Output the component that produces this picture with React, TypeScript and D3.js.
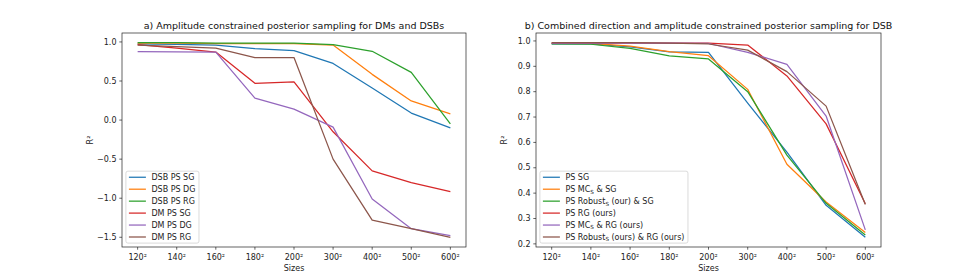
import React, { useEffect, useRef } from 'react';
import * as d3 from 'd3';

const SIZES = ['120²', '140²', '160²', '180²', '200²', '300²', '400²', '500²', '600²'];

// panel a) amplitude constrained posterior sampling
const LEFT_TITLE = 'a) Amplitude constrained posterior sampling for DMs and DSBs';
const LEFT_LABELS = ['DSB PS SG', 'DSB PS DG', 'DSB PS RG', 'DM PS SG', 'DM PS DG', 'DM PS RG'];
const dsbPsSg = [0.975, 0.97, 0.96, 0.915, 0.89, 0.725, 0.41, 0.09, -0.1];
const dsbPsDg = [0.985, 0.985, 0.98, 0.98, 0.98, 0.96, 0.585, 0.245, 0.08];
const dsbPsRg = [0.99, 0.99, 0.985, 0.985, 0.985, 0.965, 0.88, 0.61, -0.05];
const dmPsSg = [0.967, 0.92, 0.87, 0.47, 0.49, -0.15, -0.65, -0.8, -0.915];
const dmPsDg = [0.875, 0.873, 0.87, 0.28, 0.14, -0.09, -1.01, -1.39, -1.48];
const dmPsRg = [0.96, 0.94, 0.92, 0.8, 0.8, -0.5, -1.28, -1.39, -1.5];
const LEFT_TICKS = [-1.5, -1.0, -0.5, 0.0, 0.5, 1.0];

// panel b) combined direction and amplitude constrained posterior sampling
const RIGHT_TITLE = 'b) Combined direction and amplitude constrained posterior sampling for DSB';
const RIGHT_LABELS = [
  'PS SG',
  'PS MC_S & SG',
  'PS Robust_S (our) & SG',
  'PS RG (ours)',
  'PS MC_S & RG (ours)',
  'PS Robust_S (ours) & RG (ours)'
];
const psSg = [0.988, 0.988, 0.977, 0.957, 0.955, 0.755, 0.562, 0.352, 0.226];
const psMcSg = [0.99, 0.99, 0.98, 0.958, 0.942, 0.809, 0.514, 0.365, 0.245];
const psRobustSg = [0.988, 0.987, 0.971, 0.941, 0.929, 0.8, 0.55, 0.36, 0.235];
const psRg = [0.991, 0.991, 0.991, 0.991, 0.991, 0.984, 0.862, 0.673, 0.358];
const psMcRg = [0.991, 0.991, 0.991, 0.991, 0.99, 0.955, 0.908, 0.704, 0.255];
const psRobustRg = [0.993, 0.993, 0.993, 0.991, 0.988, 0.964, 0.879, 0.743, 0.355];
const RIGHT_TICKS = [0.2, 0.3, 0.4, 0.5, 0.6, 0.7, 0.8, 0.9, 1.0];

const COLORS = ['#1f77b4', '#ff7f0e', '#2ca02c', '#d62728', '#9467bd', '#8c564b'];
const FONT = 'DejaVu Sans, sans-serif';
const SMALL = 8;

function drawPanel(svg, cfg) {
  const { left, right, top, bottom, title, labels, series, ticks } = cfg;
  const g = svg.append('g');

  const x = d3.scalePoint().domain(SIZES).range([left, right]).padding(0.4);
  const all = series.flat();
  const lo = d3.min(all);
  const hi = d3.max(all);
  const pad = (hi - lo) * 0.05;
  const y = d3.scaleLinear().domain([lo - pad, hi + pad]).range([bottom, top]);

  const line = d3.line()
    .x((_, i) => x(SIZES[i]))
    .y((v) => y(v));

  series.forEach((values, i) => {
    g.append('path')
      .datum(values)
      .attr('fill', 'none')
      .attr('stroke', COLORS[i])
      .attr('stroke-width', 1.25)
      .attr('stroke-linejoin', 'round')
      .attr('d', line);
  });

  // spines
  g.append('rect')
    .attr('x', left)
    .attr('y', top)
    .attr('width', right - left)
    .attr('height', bottom - top)
    .attr('fill', 'none')
    .attr('stroke', '#222')
    .attr('stroke-width', 0.7);

  const fmt = (v) => d3.format('.1f')(v).replace('-', '\u2212');

  ticks.forEach((t) => {
    g.append('line')
      .attr('x1', left - 2.7).attr('x2', left)
      .attr('y1', y(t)).attr('y2', y(t))
      .attr('stroke', '#222').attr('stroke-width', 0.7);
    g.append('text')
      .attr('x', left - 5.5)
      .attr('y', y(t))
      .attr('dy', '0.33em')
      .attr('text-anchor', 'end')
      .attr('font-size', SMALL)
      .attr('font-family', FONT)
      .attr('fill', '#222')
      .text(fmt(t));
  });

  SIZES.forEach((s) => {
    g.append('line')
      .attr('x1', x(s)).attr('x2', x(s))
      .attr('y1', bottom).attr('y2', bottom + 2.7)
      .attr('stroke', '#222').attr('stroke-width', 0.7);
    g.append('text')
      .attr('x', x(s))
      .attr('y', bottom + 13)
      .attr('text-anchor', 'middle')
      .attr('font-size', SMALL)
      .attr('font-family', FONT)
      .attr('fill', '#222')
      .text(s);
  });

  g.append('text')
    .attr('x', (left + right) / 2)
    .attr('y', top - 3.8)
    .attr('text-anchor', 'middle')
    .attr('font-size', 9.5)
    .attr('font-family', FONT)
    .attr('fill', '#111')
    .text(title);

  g.append('text')
    .attr('x', (left + right) / 2)
    .attr('y', bottom + 23.5)
    .attr('text-anchor', 'middle')
    .attr('font-size', SMALL)
    .attr('font-family', FONT)
    .attr('fill', '#222')
    .text('Sizes');

  g.append('text')
    .attr('transform', `translate(${left - 29},${(top + bottom) / 2}) rotate(-90)`)
    .attr('text-anchor', 'middle')
    .attr('font-size', SMALL)
    .attr('font-family', FONT)
    .attr('fill', '#222')
    .text('R²');

  // legend, lower left
  const rowGap = 11.95;
  const boxX = left + 3.9;
  const boxH = rowGap * (labels.length - 1) + 12.2;
  const boxY = bottom - 3.9 - boxH;
  const legend = g.append('g');
  const frame = legend.append('rect')
    .attr('x', boxX)
    .attr('y', boxY)
    .attr('height', boxH)
    .attr('rx', 2)
    .attr('fill', 'white')
    .attr('fill-opacity', 0.8)
    .attr('stroke', '#ccc')
    .attr('stroke-width', 0.7);

  let maxW = 0;
  labels.forEach((label, i) => {
    const cy = boxY + 6.1 + i * rowGap;
    legend.append('line')
      .attr('x1', boxX + 3).attr('x2', boxX + 20)
      .attr('y1', cy).attr('y2', cy)
      .attr('stroke', COLORS[i])
      .attr('stroke-width', 1.25);
    const text = legend.append('text')
      .attr('x', boxX + 25.5)
      .attr('y', cy)
      .attr('dy', '0.35em')
      .attr('font-size', SMALL)
      .attr('font-family', FONT)
      .attr('fill', '#222');
    const parts = label.split('_S');
    parts.forEach((part, k) => {
      if (k > 0) {
        text.append('tspan').attr('font-size', 5.6).attr('dy', 1.6).text('S');
        text.append('tspan').attr('dy', -1.6).text(part);
      } else {
        text.append('tspan').text(part);
      }
    });
    maxW = Math.max(maxW, text.node().getComputedTextLength());
  });
  frame.attr('width', 25.5 + maxW + 3.5);
}

export default function App() {
  const ref = useRef(null);

  useEffect(() => {
    const svg = d3.select(ref.current);
    svg.selectAll('*').remove();

    drawPanel(svg, {
      left: 122, right: 466, top: 33, bottom: 247,
      title: LEFT_TITLE,
      labels: LEFT_LABELS,
      series: [dsbPsSg, dsbPsDg, dsbPsRg, dmPsSg, dmPsDg, dmPsRg],
      ticks: LEFT_TICKS
    });

    drawPanel(svg, {
      left: 536, right: 881, top: 33, bottom: 247,
      title: RIGHT_TITLE,
      labels: RIGHT_LABELS,
      series: [psSg, psMcSg, psRobustSg, psRg, psMcRg, psRobustRg],
      ticks: RIGHT_TICKS
    });
  }, []);

  return (
    <svg
      ref={ref}
      width={978}
      height={278}
      style={{ position: 'absolute', left: 0, top: 0, background: 'white' }}
    />
  );
}
